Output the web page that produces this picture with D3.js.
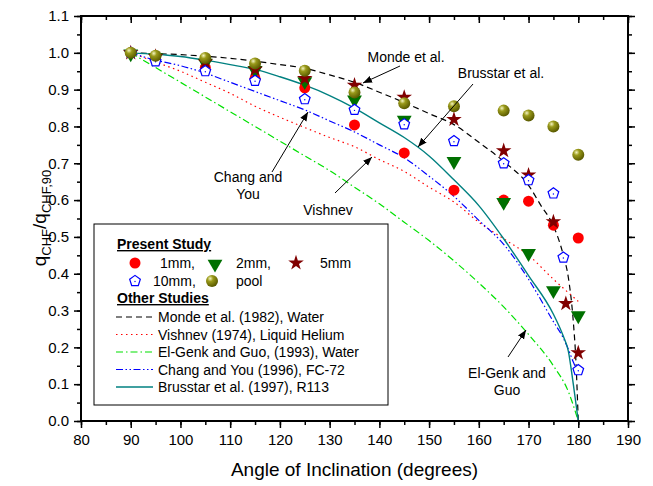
<!DOCTYPE html>
<html>
<head>
<meta charset="utf-8">
<script src="https://cdn.jsdelivr.net/npm/d3@7"></script>
<style>
  body { margin: 0; background: #fff; }
  text { font-family: Arial, "Liberation Sans", sans-serif; fill: #000; }
</style>
</head>
<body>
<svg id="chart" width="653" height="486"></svg>
<script>
// measured data (angle in degrees, q/q90)
const ang1mm = [90, 95, 105, 115, 125, 135, 145, 155, 165, 170, 175, 180];
const val1mm = [1.0, 0.99, 0.96, 0.93, 0.905, 0.804, 0.728, 0.627, 0.600, 0.597, 0.532, 0.497];
const ang2mm = [90, 95, 105, 115, 125, 135, 145, 155, 165, 170, 175, 180];
const val2mm = [1.0, 0.99, 0.975, 0.955, 0.925, 0.875, 0.82, 0.708, 0.597, 0.458, 0.357, 0.289];
const ang5mm = [90, 95, 105, 115, 125, 135, 145, 155, 165, 170, 175, 177.5, 180];
const val5mm = [1.0, 0.99, 0.975, 0.955, 0.93, 0.912, 0.879, 0.819, 0.734, 0.668, 0.541, 0.319, 0.185];
const ang10mm = [90, 95, 105, 115, 125, 135, 145, 155, 165, 170, 175, 177, 180];
const val10mm = [1.0, 0.977, 0.95, 0.924, 0.874, 0.845, 0.806, 0.760, 0.700, 0.654, 0.618, 0.444, 0.138];
const angPool = [90, 95, 105, 115, 125, 135, 145, 155, 165, 170, 175, 180];
const valPool = [1.0, 0.992, 0.986, 0.971, 0.951, 0.892, 0.863, 0.855, 0.843, 0.830, 0.800, 0.723];

// correlations
const angMonde = [90, 100, 110, 120, 125, 130, 135, 140, 145, 150, 155, 160, 165, 170, 172.5, 175, 177, 178, 179, 179.5, 180];
const valMonde = [1.0, 0.995, 0.985, 0.968, 0.958, 0.94, 0.92, 0.893, 0.865, 0.835, 0.805, 0.757, 0.705, 0.64, 0.585, 0.53, 0.45, 0.39, 0.27, 0.17, 0.0];
const angVish = [90, 95, 100, 105, 110, 115, 120, 125, 130, 135, 140, 145, 150, 155, 160, 165, 170, 175, 180];
const valVish = [1.0, 0.975, 0.95, 0.92, 0.89, 0.855, 0.825, 0.797, 0.77, 0.745, 0.71, 0.678, 0.635, 0.595, 0.54, 0.495, 0.45, 0.385, 0.325];
const angGenk = [90, 95, 100, 105, 110, 115, 120, 125, 130, 135, 140, 145, 150, 155, 160, 165, 170, 175, 178, 180];
const valGenk = [1.0, 0.96, 0.92, 0.88, 0.84, 0.80, 0.76, 0.72, 0.68, 0.635, 0.59, 0.54, 0.49, 0.435, 0.375, 0.31, 0.235, 0.15, 0.08, 0.0];
const angChang = [90, 95, 100, 105, 110, 115, 120, 125, 130, 135, 140, 145, 150, 155, 160, 165, 170, 175, 177, 178, 179, 180];
const valChang = [1.0, 0.98, 0.965, 0.945, 0.92, 0.895, 0.87, 0.845, 0.815, 0.785, 0.75, 0.715, 0.665, 0.61, 0.545, 0.48, 0.385, 0.27, 0.225, 0.195, 0.16, 0.13];
const angBrus = [90, 95, 100, 105, 110, 115, 120, 125, 130, 135, 140, 145, 150, 155, 160, 165, 170, 175, 177, 178, 179, 180];
const valBrus = [1.0, 0.996, 0.99, 0.98, 0.968, 0.955, 0.935, 0.912, 0.884, 0.85, 0.81, 0.77, 0.72, 0.655, 0.585, 0.495, 0.395, 0.29, 0.23, 0.19, 0.1, 0.0];

const xTicks = [80, 90, 100, 110, 120, 130, 140, 150, 160, 170, 180, 190];
const yTicks = [0.0, 0.1, 0.2, 0.3, 0.4, 0.5, 0.6, 0.7, 0.8, 0.9, 1.0, 1.1];

const svg = d3.select('#chart');
const plotL = 81, plotR = 628, plotT = 16, plotB = 421;

const x = d3.scaleLinear().domain([80, 190]).range([plotL, plotR]);
const y = d3.scaleLinear().domain([0, 1.1]).range([plotB, plotT]);

// sphere gradient for "pool"
const defs = svg.append('defs');
const grad = defs.append('radialGradient').attr('id', 'ball')
    .attr('cx', '35%').attr('cy', '30%').attr('r', '70%');
grad.append('stop').attr('offset', '0%').attr('stop-color', '#f4f4c0');
grad.append('stop').attr('offset', '35%').attr('stop-color', '#9a9a1a');
grad.append('stop').attr('offset', '100%').attr('stop-color', '#5a5a00');
defs.append('marker').attr('id', 'arrow')
    .attr('viewBox', '0 0 10 10').attr('refX', 10).attr('refY', 5)
    .attr('markerWidth', 9).attr('markerHeight', 9).attr('markerUnits', 'userSpaceOnUse')
    .attr('orient', 'auto')
  .append('path').attr('d', 'M0,1 L10,5 L0,9 Z').attr('fill', '#000');

// curves
const line = d3.line().x(d => x(d[0])).y(d => y(d[1]));
const curves = [
  {a: angMonde, v: valMonde, color: '#000', dash: '6,4', w: 1.2},
  {a: angVish, v: valVish, color: '#ff0000', dash: '1.5,3.5', w: 1.2},
  {a: angGenk, v: valGenk, color: '#00e000', dash: '7,3,1.5,3', w: 1.2},
  {a: angChang, v: valChang, color: '#0000ff', dash: '7,2.5,1.5,2.5,1.5,2.5', w: 1.2},
  {a: angBrus, v: valBrus, color: '#008080', dash: null, w: 1.4}
];
curves.forEach(c => {
  svg.append('path')
    .datum(d3.zip(c.a, c.v))
    .attr('d', line.curve(d3.curveMonotoneX))
    .attr('fill', 'none')
    .attr('stroke', c.color)
    .attr('stroke-width', c.w)
    .attr('stroke-dasharray', c.dash);
});

// pentagon symbol
const pentagon = {
  draw(ctx, size) {
    const r = Math.sqrt(size / 2.38);
    for (let i = 0; i < 5; i++) {
      const t = -Math.PI / 2 + i * 2 * Math.PI / 5;
      if (i === 0) ctx.moveTo(r * Math.cos(t), r * Math.sin(t));
      else ctx.lineTo(r * Math.cos(t), r * Math.sin(t));
    }
    ctx.closePath();
  }
};

function drawMarker(g, kind, cx, cy) {
  if (kind === '1mm') {
    g.append('circle').attr('cx', cx).attr('cy', cy).attr('r', 5.5).attr('fill', '#ff0000');
  } else if (kind === '2mm') {
    g.append('path').attr('d', d3.symbol(d3.symbolTriangle, 95)())
      .attr('transform', `translate(${cx},${cy + 1}) rotate(180)`).attr('fill', '#007000');
  } else if (kind === '5mm') {
    g.append('path').attr('d', d3.symbol(d3.symbolStar, 75)())
      .attr('transform', `translate(${cx},${cy})`).attr('fill', '#800000');
  } else if (kind === '10mm') {
    g.append('path').attr('d', d3.symbol(pentagon, 75)())
      .attr('transform', `translate(${cx},${cy})`)
      .attr('fill', '#fff').attr('stroke', '#0000ff').attr('stroke-width', 1.2);
    g.append('circle').attr('cx', cx).attr('cy', cy + 0.5).attr('r', 0.7).attr('fill', '#0000ff');
  } else {
    g.append('circle').attr('cx', cx).attr('cy', cy).attr('r', 6).attr('fill', 'url(#ball)');
  }
}

const series = [
  {k: '1mm', a: ang1mm, v: val1mm},
  {k: '2mm', a: ang2mm, v: val2mm},
  {k: '5mm', a: ang5mm, v: val5mm},
  {k: '10mm', a: ang10mm, v: val10mm},
  {k: 'pool', a: angPool, v: valPool}
];
const gMarks = svg.append('g');
series.forEach(s => {
  s.a.forEach((a, i) => drawMarker(gMarks, s.k, x(a), y(s.v[i])));
});

// axes
const xMinor = d3.range(80, 191, 5);
const yMinor = d3.range(0, 1.101, 0.05);
svg.append('g').attr('transform', `translate(0,${plotB})`)
  .call(d3.axisBottom(x).tickValues(xMinor).tickSize(4).tickFormat(''));
svg.append('g').attr('transform', `translate(0,${plotB})`)
  .call(d3.axisBottom(x).tickValues(xTicks).tickSize(7).tickPadding(6).tickFormat(d3.format('d')));
svg.append('g').attr('transform', `translate(0,${plotT})`)
  .call(d3.axisBottom(x).tickValues(xMinor).tickSize(4).tickFormat(''));
svg.append('g').attr('transform', `translate(0,${plotT})`)
  .call(d3.axisBottom(x).tickValues(xTicks).tickSize(7).tickFormat(''));
svg.append('g').attr('transform', `translate(${plotL},0)`)
  .call(d3.axisLeft(y).tickValues(yMinor).tickSize(4).tickFormat(''));
svg.append('g').attr('transform', `translate(${plotL},0)`)
  .call(d3.axisLeft(y).tickValues(yTicks).tickSize(7).tickPadding(5).tickFormat(d3.format('.1f')));
svg.append('g').attr('transform', `translate(${plotR},0)`)
  .call(d3.axisLeft(y).tickValues(yMinor).tickSize(-4).tickFormat(''));
svg.append('g').attr('transform', `translate(${plotR},0)`)
  .call(d3.axisLeft(y).tickValues(yTicks).tickSize(-7).tickFormat(''));
svg.selectAll('.domain').remove();
svg.selectAll('.tick line').attr('stroke', '#000').attr('stroke-width', 1.5);
svg.selectAll('.tick text').style('font-size', '15px').style('font-family', 'Arial, "Liberation Sans", sans-serif');
svg.append('rect').attr('x', plotL).attr('y', plotT)
  .attr('width', plotR - plotL).attr('height', plotB - plotT)
  .attr('fill', 'none').attr('stroke', '#000').attr('stroke-width', 2);

// axis titles
svg.append('text').attr('x', (plotL + plotR) / 2).attr('y', 476)
  .attr('text-anchor', 'middle').style('font-size', '19px')
  .text('Angle of Inclination (degrees)');
const yl = svg.append('text').attr('transform', 'translate(46,218) rotate(-90)')
  .attr('text-anchor', 'middle').style('font-size', '19px');
yl.append('tspan').text('q');
yl.append('tspan').attr('dy', 5).style('font-size', '13px').text('CHF');
yl.append('tspan').attr('dy', -5).text('/q');
yl.append('tspan').attr('dy', 5).style('font-size', '13px').text('CHF,90');

// annotations
const notes = [
  {lines: ['Monde et al.'], tx: 406, ty: 62, from: [400, 66], to: [363, 83]},
  {lines: ['Brusstar et al.'], tx: 501, ty: 78, from: [473, 84], to: [418, 147]},
  {lines: ['Vishnev'], tx: 328, ty: 215, from: [335, 193], to: [372, 157]},
  {lines: ['Chang and', 'You'], tx: 248, ty: 182, from: [272, 172], to: [308, 112]},
  {lines: ['El-Genk and', 'Guo'], tx: 507, ty: 378, from: [508, 357], to: [526, 330]}
];
notes.forEach(n => {
  svg.append('line').attr('x1', n.from[0]).attr('y1', n.from[1])
    .attr('x2', n.to[0]).attr('y2', n.to[1])
    .attr('stroke', '#000').attr('stroke-width', 1).attr('marker-end', 'url(#arrow)');
  n.lines.forEach((t, i) => {
    svg.append('text').attr('x', n.tx).attr('y', n.ty + i * 17)
      .attr('text-anchor', 'middle').style('font-size', '14px').text(t);
  });
});

// legend
const lg = svg.append('g');
lg.append('rect').attr('x', 94).attr('y', 224).attr('width', 294).attr('height', 181)
  .attr('fill', '#fff').attr('stroke', '#000').attr('stroke-width', 1);
[['Present Study', 249], ['Other Studies', 303]].forEach(([t, yy]) => {
  lg.append('text').attr('x', 117).attr('y', yy).style('font-size', '14px')
    .style('font-weight', 'bold').style('text-decoration', 'underline').text(t);
});
const legMarks = [
  {k: '1mm', mx: 135, my: 263, label: '1mm,', tx: 160},
  {k: '2mm', mx: 215, my: 263, label: '2mm,', tx: 236},
  {k: '5mm', mx: 296, my: 263, label: '5mm', tx: 320},
  {k: '10mm', mx: 135, my: 281, label: '10mm,', tx: 153},
  {k: 'pool', mx: 212, my: 281, label: 'pool', tx: 236}
];
legMarks.forEach(m => {
  drawMarker(lg, m.k, m.mx, m.my);
  lg.append('text').attr('x', m.tx).attr('y', m.my + 5).style('font-size', '14px').text(m.label);
});
const legLines = ['Monde et al. (1982), Water', 'Vishnev (1974), Liquid Helium',
  'El-Genk and Guo, (1993), Water', 'Chang and You (1996), FC-72', 'Brusstar et al. (1997), R113'];
legLines.forEach((t, i) => {
  const yy = 317 + i * 17.5;
  const c = curves[i];
  lg.append('line').attr('x1', 116).attr('x2', 153).attr('y1', yy).attr('y2', yy)
    .attr('stroke', c.color).attr('stroke-width', c.w).attr('stroke-dasharray', c.dash);
  lg.append('text').attr('x', 158).attr('y', yy + 5).style('font-size', '14px').text(t);
});
</script>
</body>
</html>
